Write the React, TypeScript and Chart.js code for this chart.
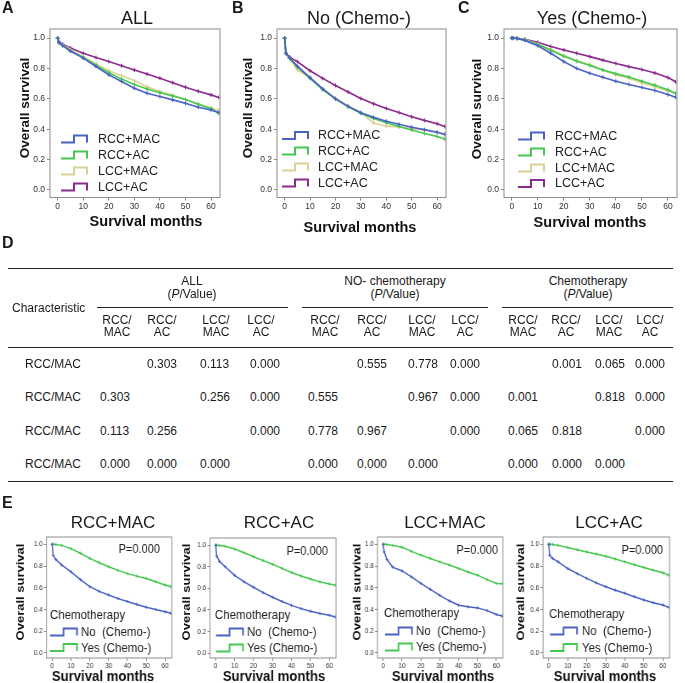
import React, { useEffect, useRef } from "react";
import { Chart, registerables } from "chart.js";
Chart.register(...registerables);

const FONT = "'Liberation Sans', Arial, Helvetica, sans-serif";

// ---------- data ----------
const MONTHS = [0, 0.5, 2, 5, 10, 15, 20, 25, 30, 35, 40, 45, 50, 55, 60, 63];
const X_TICKS = [0, 10, 20, 30, 40, 50, 60];
const Y_TICKS = [0, 0.2, 0.4, 0.6, 0.8, 1.0];
const Y_TITLE = "Overall survival";
const X_TITLE = "Survival months";

const GROUP_LABELS = ["RCC+MAC", "RCC+AC", "LCC+MAC", "LCC+AC"];
const GROUP_COLORS = ["#4a62c6", "#45c84f", "#dbd193", "#8b2b8d"];
const CHEMO_HEADER = "Chemotherapy";
const CHEMO_LABELS = ["No  (Chemo-)", "Yes (Chemo-)"];
const CHEMO_COLORS = ["#4a62c6", "#45c84f"];

// Panel A: all patients
const ALL_RCC_MAC = [1, 0.97, 0.95, 0.915, 0.868, 0.813, 0.758, 0.714, 0.67, 0.637, 0.615, 0.593, 0.571, 0.545, 0.527, 0.51];
const ALL_RCC_AC = [1, 0.97, 0.95, 0.915, 0.872, 0.822, 0.772, 0.73, 0.695, 0.665, 0.64, 0.618, 0.595, 0.565, 0.535, 0.505];
const ALL_LCC_MAC = [1, 0.97, 0.955, 0.925, 0.878, 0.83, 0.785, 0.752, 0.72, 0.68, 0.648, 0.625, 0.595, 0.565, 0.54, 0.525];
const ALL_LCC_AC = [1, 0.975, 0.96, 0.935, 0.9, 0.872, 0.846, 0.818, 0.79, 0.763, 0.736, 0.706, 0.677, 0.65, 0.626, 0.609];
// Panel B: no chemotherapy
const NO_RCC_MAC = [1, 0.9, 0.87, 0.815, 0.74, 0.665, 0.6, 0.55, 0.508, 0.478, 0.452, 0.432, 0.413, 0.397, 0.38, 0.365];
const NO_RCC_AC = [1, 0.9, 0.865, 0.81, 0.735, 0.66, 0.6, 0.548, 0.505, 0.47, 0.442, 0.418, 0.395, 0.372, 0.352, 0.335];
const NO_LCC_MAC = [1, 0.9, 0.865, 0.79, 0.74, 0.665, 0.605, 0.555, 0.51, 0.44, 0.42, 0.415, 0.405, 0.393, 0.38, 0.37];
const NO_LCC_AC = [1, 0.9, 0.875, 0.845, 0.785, 0.735, 0.688, 0.645, 0.602, 0.567, 0.537, 0.51, 0.482, 0.458, 0.436, 0.418];
// Panel C: chemotherapy
const YES_RCC_MAC = [1, 1, 0.998, 0.985, 0.95, 0.9, 0.845, 0.8, 0.768, 0.742, 0.716, 0.695, 0.675, 0.655, 0.628, 0.61];
const YES_RCC_AC = [1, 1, 0.998, 0.988, 0.958, 0.92, 0.88, 0.847, 0.82, 0.79, 0.766, 0.744, 0.716, 0.69, 0.66, 0.635];
const YES_LCC_MAC = [1, 1, 0.998, 0.99, 0.962, 0.925, 0.885, 0.852, 0.826, 0.79, 0.757, 0.735, 0.706, 0.68, 0.652, 0.635];
const YES_LCC_AC = [1, 1, 0.999, 0.992, 0.972, 0.945, 0.922, 0.9, 0.878, 0.855, 0.833, 0.812, 0.793, 0.77, 0.74, 0.712];
// Panel E: chemo vs no chemo per group
const E_RCC_MAC_NO = [1, 0.9, 0.86, 0.81, 0.747, 0.675, 0.61, 0.567, 0.534, 0.5, 0.473, 0.447, 0.42, 0.4, 0.38, 0.365];
const E_RCC_MAC_YES = [1, 1, 0.998, 0.99, 0.96, 0.918, 0.87, 0.83, 0.793, 0.76, 0.73, 0.707, 0.686, 0.655, 0.625, 0.61];
const E_RCC_AC_NO = [1, 0.9, 0.85, 0.8, 0.72, 0.66, 0.61, 0.56, 0.518, 0.478, 0.442, 0.412, 0.387, 0.367, 0.35, 0.335];
const E_RCC_AC_YES = [1, 1, 0.998, 0.99, 0.965, 0.93, 0.893, 0.857, 0.823, 0.785, 0.747, 0.715, 0.686, 0.66, 0.64, 0.63];
const E_LCC_MAC_NO = [1, 0.93, 0.86, 0.79, 0.755, 0.7, 0.64, 0.585, 0.53, 0.48, 0.44, 0.425, 0.415, 0.39, 0.355, 0.34];
const E_LCC_MAC_YES = [1, 1, 0.998, 0.99, 0.972, 0.935, 0.9, 0.87, 0.838, 0.81, 0.777, 0.745, 0.716, 0.675, 0.64, 0.638];
const E_LCC_AC_NO = [1, 0.9, 0.87, 0.838, 0.777, 0.73, 0.686, 0.645, 0.61, 0.578, 0.55, 0.518, 0.488, 0.463, 0.442, 0.42];
const E_LCC_AC_YES = [1, 1, 0.999, 0.99, 0.97, 0.95, 0.93, 0.91, 0.89, 0.865, 0.838, 0.812, 0.787, 0.762, 0.738, 0.716];
const E_P_VALUES = ["0.000", "0.000", "0.000", "0.000"];

// Table D
const TABLE_GROUPS = ["ALL", "NO- chemotherapy", "Chemotherapy"];
const TABLE_COLS = ["RCC/MAC", "RCC/AC", "LCC/MAC", "LCC/AC"];
const TABLE_ROWS = ["RCC/MAC", "RCC/MAC", "RCC/MAC", "RCC/MAC"];
const P_ALL = [
  ["", "0.303", "0.113", "0.000"],
  ["0.303", "", "0.256", "0.000"],
  ["0.113", "0.256", "", "0.000"],
  ["0.000", "0.000", "0.000", ""],
];
const P_NO_CHEMO = [
  ["", "0.555", "0.778", "0.000"],
  ["0.555", "", "0.967", "0.000"],
  ["0.778", "0.967", "", "0.000"],
  ["0.000", "0.000", "0.000", ""],
];
const P_CHEMO = [
  ["", "0.001", "0.065", "0.000"],
  ["0.001", "", "0.818", "0.000"],
  ["0.065", "0.818", "", "0.000"],
  ["0.000", "0.000", "0.000", ""],
];

// ---------- layout ----------
type Cfg = {
  letter?: string;
  title: string;
  titleSize: number;
  titleAt: [number, number];
  letterAt?: [number, number];
  series: number[][];
  labels: string[];
  colors: string[];
  box: { left: number; top: number; width: number; height: number };
  area: { l: number; t: number; r: number; b: number };
  sx: number;
  xMin: number; xMax: number; yMin: number; yMax: number;
  tickSize: number; tickPadX: number; tickPadY: number;
  yTitleAt: [number, number]; yTitleSize: number;
  xTitleAt: [number, number]; xTitleSize: number;
  legend: { header?: string; hx?: number; hy?: number; gx: number; gw: number; tx: number; rows: number[]; size: number };
  pText?: string; pAt?: [number, number];
  lineW: number; ptR: number;
};

const TOP_COMMON = {
  titleSize: 18, labels: GROUP_LABELS, colors: GROUP_COLORS, sx: 1,
  xMin: -3, xMax: 63.5, yMin: -0.05, yMax: 1.06,
  tickSize: 8.5, tickPadX: 1, tickPadY: 2, yTitleSize: 13.5, xTitleSize: 14.5,
  lineW: 1.6, ptR: 2,
};

const TOP_PANELS: Cfg[] = [
  {
    ...TOP_COMMON, letter: "A", letterAt: [2, 8], title: "ALL", titleAt: [137, 19.5],
    series: [ALL_RCC_MAC, ALL_RCC_AC, ALL_LCC_MAC, ALL_LCC_AC],
    box: { left: 0, top: 0, width: 225, height: 238 }, area: { l: 50, t: 29, r: 222, b: 197.5 },
    yTitleAt: [25, 108], xTitleAt: [146, 222],
    legend: { gx: 61, gw: 26, tx: 98, rows: [139, 155, 171, 187], size: 12.5 },
  },
  {
    ...TOP_COMMON, letter: "B", letterAt: [232, 8], title: "No (Chemo-)", titleAt: [359, 19.5],
    series: [NO_RCC_MAC, NO_RCC_AC, NO_LCC_MAC, NO_LCC_AC],
    box: { left: 225, top: 0, width: 230, height: 238 }, area: { l: 277, t: 29, r: 446, b: 197.5 },
    yTitleAt: [248, 108], xTitleAt: [360, 228],
    legend: { gx: 282, gw: 26, tx: 318, rows: [135.5, 151, 167, 183], size: 12.5 },
  },
  {
    ...TOP_COMMON, letter: "C", letterAt: [458, 8], title: "Yes (Chemo-)", titleAt: [592, 19.5],
    series: [YES_RCC_MAC, YES_RCC_AC, YES_LCC_MAC, YES_LCC_AC],
    box: { left: 455, top: 0, width: 230, height: 238 }, area: { l: 504, t: 29, r: 677, b: 197.5 },
    yTitleAt: [477, 109], xTitleAt: [590, 223],
    legend: { gx: 518, gw: 26, tx: 555, rows: [136, 152, 168, 183.5], size: 12.5 },
  },
];

const E_COMMON = {
  titleSize: 17, labels: CHEMO_LABELS, colors: CHEMO_COLORS, sx: 0.85,
  xMin: -3, xMax: 63.5, yMin: -0.046, yMax: 1.067,
  tickSize: 7.5, tickPadX: 0, tickPadY: 1.5, yTitleSize: 13, xTitleSize: 15.5,
  lineW: 1.5, ptR: 1.6,
};

const E_PANELS: Cfg[] = [
  {
    ...E_COMMON, title: GROUP_LABELS[0], titleAt: [113, 524],
    series: [E_RCC_MAC_NO, E_RCC_MAC_YES],
    box: { left: 0, top: 500, width: 176, height: 183 }, area: { l: 46.5, t: 537, r: 172, b: 658 },
    yTitleAt: [21, 592], xTitleAt: [103, 677],
    legend: { header: CHEMO_HEADER, hx: 50, hy: 615, gx: 50, gw: 27, tx: 81, rows: [632, 647.5], size: 13.5 },
    pText: "P=" + E_P_VALUES[0], pAt: [160, 549],
  },
  {
    ...E_COMMON, title: GROUP_LABELS[1], titleAt: [279, 524],
    series: [E_RCC_AC_NO, E_RCC_AC_YES],
    box: { left: 172, top: 500, width: 168, height: 183 }, area: { l: 210, t: 538, r: 337, b: 658 },
    yTitleAt: [187, 592], xTitleAt: [274, 677],
    legend: { header: CHEMO_HEADER, hx: 215, hy: 615, gx: 216, gw: 27, tx: 247, rows: [632, 648], size: 13.5 },
    pText: "P=" + E_P_VALUES[1], pAt: [328, 551],
  },
  {
    ...E_COMMON, title: GROUP_LABELS[2], titleAt: [445, 524],
    series: [E_LCC_MAC_NO, E_LCC_MAC_YES],
    box: { left: 340, top: 500, width: 168, height: 183 }, area: { l: 377.5, t: 537, r: 503, b: 658 },
    yTitleAt: [357, 592], xTitleAt: [443, 677],
    legend: { header: CHEMO_HEADER, hx: 384, hy: 613, gx: 385, gw: 27, tx: 416, rows: [631, 647], size: 13.5 },
    pText: "P=" + E_P_VALUES[2], pAt: [498, 550],
  },
  {
    ...E_COMMON, title: GROUP_LABELS[3], titleAt: [609, 524],
    series: [E_LCC_AC_NO, E_LCC_AC_YES],
    box: { left: 508, top: 500, width: 177, height: 183 }, area: { l: 543, t: 537, r: 669.5, b: 658 },
    yTitleAt: [521, 592], xTitleAt: [605, 677],
    legend: { header: CHEMO_HEADER, hx: 549, hy: 614, gx: 550, gw: 27, tx: 582, rows: [631, 647.5], size: 13.5 },
    pText: "P=" + E_P_VALUES[3], pAt: [663, 550],
  },
];

function KMPanel({ cfg }: { cfg: Cfg }) {
  const ref = useRef<HTMLCanvasElement>(null);
  const cw = Math.round(cfg.box.width / cfg.sx);
  const ch = cfg.box.height;
  useEffect(() => {
    const canvas = ref.current!;
    const sx = cfg.sx;
    const X = (ax: number) => (ax - cfg.box.left) / sx;
    const Y = (ay: number) => ay - cfg.box.top;
    const l = X(cfg.area.l), r = X(cfg.area.r), t = Y(cfg.area.t), b = Y(cfg.area.b);

    const decor = {
      id: "decor",
      afterDraw(chart: any) {
        const ctx = chart.ctx;
        const a = chart.chartArea;
        ctx.save();
        ctx.strokeStyle = "#8d8d8d";
        ctx.lineWidth = 1;
        ctx.strokeRect(a.left, a.top, a.right - a.left, a.bottom - a.top);
        ctx.fillStyle = "#111";
        ctx.textAlign = "center";
        ctx.textBaseline = "middle";
        ctx.font = `bold ${cfg.yTitleSize}px ${FONT}`;
        ctx.save();
        ctx.translate(X(cfg.yTitleAt[0]), Y(cfg.yTitleAt[1]));
        ctx.rotate(-Math.PI / 2);
        ctx.fillText(Y_TITLE, 0, 0);
        ctx.restore();
        ctx.font = `bold ${cfg.xTitleSize}px ${FONT}`;
        ctx.fillText(X_TITLE, X(cfg.xTitleAt[0]), Y(cfg.xTitleAt[1]));

        const lg = cfg.legend;
        ctx.textAlign = "left";
        ctx.font = `${lg.size}px ${FONT}`;
        ctx.fillStyle = "#222";
        if (lg.header) ctx.fillText(lg.header, X(lg.hx!), Y(lg.hy!));
        chart.data.datasets.forEach((ds: any, i: number) => {
          const y = Y(lg.rows[i]);
          const gx = X(lg.gx);
          const gw = lg.gw / sx;
          ctx.strokeStyle = ds.borderColor;
          ctx.lineWidth = 2;
          ctx.beginPath();
          ctx.moveTo(gx, y + 3.5);
          ctx.lineTo(gx + gw / 2, y + 3.5);
          ctx.lineTo(gx + gw / 2, y - 3.5);
          ctx.lineTo(gx + gw, y - 3.5);
          ctx.lineTo(gx + gw, y + 3.5);
          ctx.stroke();
          ctx.fillStyle = "#222";
          ctx.fillText(ds.label, X(lg.tx), y + 0.5);
        });
        if (cfg.pText && cfg.pAt) {
          ctx.textAlign = "right";
          ctx.font = `13px ${FONT}`;
          ctx.fillText(cfg.pText, X(cfg.pAt[0]), Y(cfg.pAt[1]));
        }
        ctx.restore();
      },
    };

    const datasets = cfg.series.map((vals, i) => ({
      label: cfg.labels[i],
      data: MONTHS.map((m, j) => ({ x: m, y: vals[j] })),
      borderColor: cfg.colors[i],
      backgroundColor: cfg.colors[i],
      borderWidth: cfg.lineW,
      pointStyle: "cross",
      pointRadius: cfg.ptR,
      pointBorderWidth: 1,
      pointBorderColor: cfg.colors[i],
      fill: false,
      tension: 0,
    }));

    const chart = new Chart(canvas, {
      type: "line",
      data: { datasets } as any,
      options: {
        animation: false,
        responsive: false,
        devicePixelRatio: 1,
        events: [],
        layout: { padding: { left: 0, top: t, right: cw - r, bottom: 0 } },
        scales: {
          x: {
            type: "linear",
            min: cfg.xMin,
            max: cfg.xMax,
            afterFit: (s: any) => { s.height = ch - b; },
            afterBuildTicks: (s: any) => { s.ticks = X_TICKS.map((v) => ({ value: v })); },
            ticks: {
              autoSkip: false, maxRotation: 0, minRotation: 0,
              font: { size: cfg.tickSize, family: FONT }, color: "#333", padding: cfg.tickPadX,
              callback: (v: any) => String(v),
            },
            grid: { drawOnChartArea: false, drawTicks: true, tickLength: 3, color: "#888" },
            border: { display: false },
          },
          y: {
            type: "linear",
            min: cfg.yMin,
            max: cfg.yMax,
            afterFit: (s: any) => { s.width = l; },
            afterBuildTicks: (s: any) => { s.ticks = Y_TICKS.map((v) => ({ value: v })); },
            ticks: {
              autoSkip: false,
              font: { size: cfg.tickSize, family: FONT }, color: "#333", padding: cfg.tickPadY,
              callback: (v: any) => Number(v).toFixed(1),
            },
            grid: { drawOnChartArea: false, drawTicks: true, tickLength: 3, color: "#888" },
            border: { display: false },
          },
        },
        plugins: { legend: { display: false }, tooltip: { enabled: false }, title: { display: false } },
      } as any,
      plugins: [decor],
    });
    return () => chart.destroy();
  }, [cfg]);

  return (
    <div
      style={{
        position: "absolute", left: cfg.box.left, top: cfg.box.top, width: cw, height: ch,
        transform: `scaleX(${cfg.sx})`, transformOrigin: "0 0",
      }}
    >
      <canvas ref={ref} width={cw} height={ch} style={{ width: cw, height: ch, display: "block" }} />
    </div>
  );
}

function Txt(props: { x: number; y: number; size?: number; align?: string; bold?: boolean; children: any }) {
  const size = props.size ?? 12;
  const style: any = {
    position: "absolute", left: props.x, top: props.y - size * 0.65, fontSize: size,
    lineHeight: `${size * 1.2}px`, fontFamily: FONT, fontWeight: props.bold ? "bold" : "normal",
    color: "#1a1a1a", whiteSpace: "pre",
  };
  if (props.align === "center") style.transform = "translateX(-50%)";
  if (props.align === "right") style.transform = "translateX(-100%)";
  return <div style={style}>{props.children}</div>;
}

function Rule({ x1, x2, y }: { x1: number; x2: number; y: number }) {
  return <div style={{ position: "absolute", left: x1, top: y - 0.5, width: x2 - x1, height: 1.2, background: "#222" }} />;
}

// table layout
const GROUP_CENTERS = [192, 395, 588];
const GROUP_RULES = [[97, 288], [302, 488], [502, 673]];
const COL_CENTERS = [117, 162, 216, 261, 325, 372, 422, 465, 523, 566, 609, 650];
const VAL_LEFTS = [100, 147, 200, 250, 308, 357, 408, 450, 508, 552, 595, 635];
const ROW_Y = [365, 398, 432, 465];

function TableD() {
  const groups = [P_ALL, P_NO_CHEMO, P_CHEMO];
  const els: any[] = [];
  els.push(<Rule key="top" x1={8} x2={673} y={268} />);
  els.push(<Rule key="hdr" x1={8} x2={673} y={347} />);
  els.push(<Rule key="bot" x1={8} x2={673} y={481} />);
  els.push(<Txt key="char" x={12} y={309} size={12}>Characteristic</Txt>);
  TABLE_GROUPS.forEach((g, gi) => {
    els.push(<Txt key={"g" + gi} x={GROUP_CENTERS[gi]} y={282} size={12} align="center">{g}</Txt>);
    els.push(<Txt key={"gp" + gi} x={GROUP_CENTERS[gi]} y={294.5} size={12} align="center">(<i>P</i>/Value)</Txt>);
    els.push(<Rule key={"gr" + gi} x1={GROUP_RULES[gi][0]} x2={GROUP_RULES[gi][1]} y={307} />);
    TABLE_COLS.forEach((c, ci) => {
      const k = gi * 4 + ci;
      const [a, b] = c.split("/");
      els.push(<Txt key={"c1" + k} x={COL_CENTERS[k]} y={321} size={12} align="center">{a + "/"}</Txt>);
      els.push(<Txt key={"c2" + k} x={COL_CENTERS[k]} y={333} size={12} align="center">{b}</Txt>);
      groups[gi].forEach((row, ri) => {
        if (row[ci]) els.push(<Txt key={`v${k}_${ri}`} x={VAL_LEFTS[k]} y={ROW_Y[ri]} size={12}>{row[ci]}</Txt>);
      });
    });
  });
  TABLE_ROWS.forEach((r, ri) => els.push(<Txt key={"r" + ri} x={25} y={ROW_Y[ri]} size={12}>{r}</Txt>));
  return <>{els}</>;
}

export default function App() {
  return (
    <div style={{ position: "absolute", left: 0, top: 0, width: 685, height: 683, background: "#fff", overflow: "hidden" }}>
      {TOP_PANELS.map((p, i) => <KMPanel key={"t" + i} cfg={p} />)}
      {E_PANELS.map((p, i) => <KMPanel key={"e" + i} cfg={p} />)}
      {TOP_PANELS.map((p, i) => (
        <React.Fragment key={"tt" + i}>
          <Txt x={p.letterAt![0]} y={p.letterAt![1]} size={16} bold>{p.letter}</Txt>
          <Txt x={p.titleAt[0]} y={p.titleAt[1]} size={p.titleSize} align="center">{p.title}</Txt>
        </React.Fragment>
      ))}
      {E_PANELS.map((p, i) => (
        <Txt key={"et" + i} x={p.titleAt[0]} y={p.titleAt[1]} size={p.titleSize} align="center">{p.title}</Txt>
      ))}
      <Txt x={2} y={243} size={16} bold>D</Txt>
      <Txt x={2} y={503} size={16} bold>E</Txt>
      <TableD />
    </div>
  );
}
